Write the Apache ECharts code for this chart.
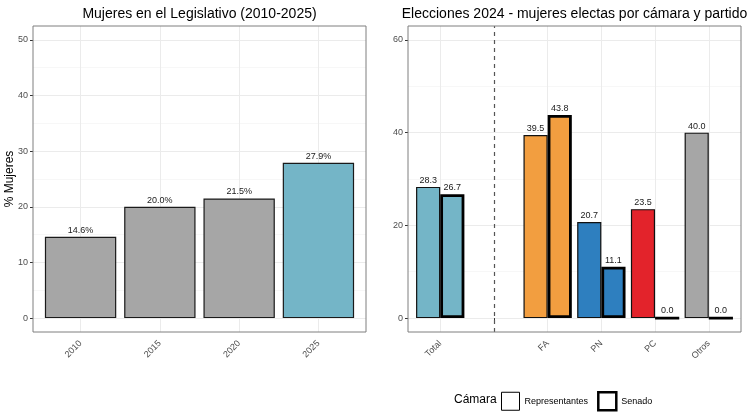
<!DOCTYPE html>
<html><head><meta charset="utf-8">
<script src="https://cdn.jsdelivr.net/npm/echarts@6/dist/echarts.min.js"></script>
<style>html,body{margin:0;padding:0;background:#fff}#c{width:750px;height:412px}</style>
</head><body><div id="c"></div>
<script>
// ---- data ----
const years = ['2010', '2015', '2020', '2025'];
const pctMujeres = [14.6, 20.0, 21.5, 27.9];
const partidos = ['Total', '', 'FA', 'PN', 'PC', 'Otros'];
const representantes = [28.3, null, 39.5, 20.7, 23.5, 40.0];
const senado = [26.7, null, 43.8, 11.1, 0.0, 0.0];
const leftYMax = 50, leftYStep = 10;
const rightYMax = 60, rightYStep = 20;

// ---- styles ----
const yearColors = ['#a6a6a6', '#a6a6a6', '#a6a6a6', '#74b5c7'];
const partyColors = ['#74b5c7', '#ffffff', '#f29e40', '#2e7fbf', '#e3232b', '#a6a6a6'];
const FONT = '"Liberation Sans", Arial, sans-serif';

function panelGrids(left, top, w, h, nCat) {
  const xUnit = w / (nCat + 0.2);          // ggplot discrete expansion 0.6
  const xIn = 0.1 * xUnit;
  const yIn = h * 0.05 / 1.1;              // 5% continuous expansion
  return [
    { left: left, top: top, width: w, height: h, show: true, borderColor: '#7f7f7f', borderWidth: 1, backgroundColor: 'transparent', z: 5 },
    { left: left, top: top + yIn, width: w, height: h - 2 * yIn },
    { left: left + xIn, top: top, width: w - 2 * xIn, height: h }
  ];
}

const grids = [].concat(
  panelGrids(33, 26, 333, 306, years.length),
  panelGrids(408, 26, 333, 306, partidos.length)
);

const hiddenX = (g) => ({ gridIndex: g, type: 'value', min: 0, max: 1, show: false });
const hiddenY = (g, mn, mx) => ({ gridIndex: g, type: 'value', min: mn, max: mx, show: false });

function catAxis(g, cats) {
  return {
    gridIndex: g, type: 'category', data: cats,
    axisLine: { show: false },
    axisTick: { show: true, alignWithLabel: true, length: 3, lineStyle: { color: '#333' } },
    axisLabel: { rotate: 45, fontSize: 9, color: '#4d4d4d', margin: 10, fontFamily: FONT, interval: 0 },
    splitLine: { show: false }
  };
}
function valAxis(g, mx, step, name) {
  return {
    gridIndex: g, type: 'value', min: 0, max: mx, interval: step,
    name: name, nameLocation: 'middle', nameGap: 17, nameRotate: 90, nameMoveOverlap: false,
    nameTextStyle: { fontSize: 12, color: '#000', fontFamily: FONT },
    axisLine: { show: false },
    axisTick: { show: true, length: 3, lineStyle: { color: '#333' } },
    axisLabel: { fontSize: 9, color: '#4d4d4d', margin: 5, fontFamily: FONT },
    splitLine: { show: true, lineStyle: { color: '#ebebeb', width: 1 } },
    minorTick: { show: false, splitNumber: 2 },
    minorSplitLine: { show: true, lineStyle: { color: '#f5f5f5', width: 0.8 } }
  };
}

const xAxes = [
  hiddenX(0), hiddenX(1), catAxis(2, years),
  hiddenX(3), hiddenX(4), catAxis(5, partidos)
];
const yAxes = [
  hiddenY(0, 0, 1), valAxis(1, leftYMax, leftYStep, '% Mujeres'), hiddenY(2, -leftYMax * 0.05, leftYMax * 1.05),
  hiddenY(3, 0, 1), valAxis(4, rightYMax, rightYStep, ''), hiddenY(5, -rightYMax * 0.05, rightYMax * 1.05)
];

const gridLineStyle = { color: '#ebebeb', width: 1, type: 'solid' };
const labelStyle = { show: true, position: 'top', distance: 2, fontSize: 9, color: '#1a1a1a', fontFamily: FONT };

const series = [
  {
    type: 'line', xAxisIndex: 2, yAxisIndex: 2, data: years.map(() => null), z: 1, silent: true,
    markLine: { z: 1, silent: true, symbol: ['none', 'none'], label: { show: false }, lineStyle: gridLineStyle,
      data: years.map((y, i) => ({ xAxis: i })) }
  },
  {
    name: 'Mujeres', type: 'bar', xAxisIndex: 2, yAxisIndex: 2, z: 3, barCategoryGap: '10%',
    itemStyle: { borderColor: '#1a1a1a', borderWidth: 1.2 },
    label: Object.assign({}, labelStyle, { formatter: (p) => p.value.toFixed(1) + '%' }),
    data: pctMujeres.map((v, i) => ({ value: v, itemStyle: { color: yearColors[i] } }))
  },
  {
    type: 'line', xAxisIndex: 5, yAxisIndex: 5, data: partidos.map(() => null), z: 1, silent: true,
    markLine: { z: 1, silent: true, symbol: ['none', 'none'], label: { show: false }, lineStyle: gridLineStyle,
      data: partidos.map((p, i) => (p === '' ?
        { xAxis: i, lineStyle: { color: '#555', width: 1.2, type: [4, 4] } } : { xAxis: i })) }
  },
  {
    name: 'Representantes', type: 'bar', xAxisIndex: 5, yAxisIndex: 5, z: 3, barGap: '0%', barCategoryGap: '10%',
    itemStyle: { color: '#fff', borderColor: '#111', borderWidth: 1.2 },
    label: Object.assign({}, labelStyle, { formatter: (p) => p.value == null ? '' : p.value.toFixed(1) }),
    data: representantes.map((v, i) => ({ value: v, itemStyle: { color: partyColors[i] } }))
  },
  {
    name: 'Senado', type: 'bar', xAxisIndex: 5, yAxisIndex: 5, z: 3, barGap: '0%', barCategoryGap: '10%',
    itemStyle: { color: '#fff', borderColor: '#000', borderWidth: 2.8 },
    label: Object.assign({}, labelStyle, { formatter: (p) => p.value == null ? '' : p.value.toFixed(1) }),
    data: senado.map((v, i) => ({ value: v, itemStyle: { color: partyColors[i] } }))
  }
];

const chart = echarts.init(document.getElementById('c'), null, { renderer: 'canvas' });
chart.setOption({
  animation: false,
  backgroundColor: '#fff',
  textStyle: { fontFamily: FONT },
  grid: grids,
  xAxis: xAxes,
  yAxis: yAxes,
  series: series,
  legend: {
    left: 501, top: 391, padding: 0, itemWidth: 18, itemHeight: 18, itemGap: 9, selectedMode: false,
    textStyle: { fontSize: 9, color: '#000', fontFamily: FONT },
    data: [
      { name: 'Representantes', icon: 'rect', itemStyle: { color: '#fff', borderColor: '#000', borderWidth: 1 } },
      { name: 'Senado', icon: 'rect', itemStyle: { color: '#fff', borderColor: '#000', borderWidth: 2.5 } }
    ]
  },
  graphic: [
    { type: 'text', x: 199.5, y: 14.5, style: { text: 'Mujeres en el Legislativo (2010-2025)', font: '14px ' + FONT, fill: '#000', textAlign: 'center', textVerticalAlign: 'middle' } },
    { type: 'text', x: 574.5, y: 14.5, style: { text: 'Elecciones 2024 - mujeres electas por cámara y partido', font: '14px ' + FONT, fill: '#000', textAlign: 'center', textVerticalAlign: 'middle' } },
    { type: 'text', x: 454, y: 400, style: { text: 'Cámara', font: '12px ' + FONT, fill: '#000', textAlign: 'left', textVerticalAlign: 'middle' } }
  ]
});
</script></body></html>
